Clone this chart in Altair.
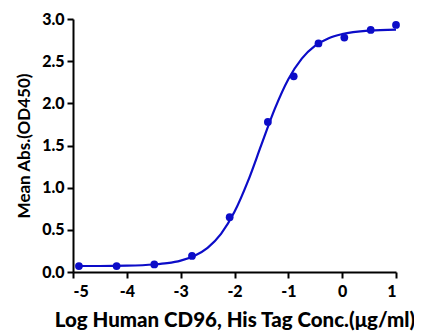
import altair as alt
import pandas as pd

# measured points (log conc, mean abs)
pt_x = [-4.89, -4.19, -3.49, -2.79, -2.09, -1.38, -0.90, -0.44, 0.04, 0.53, 1.00]
pt_y = [0.07, 0.07, 0.09, 0.19, 0.65, 1.78, 2.32, 2.71, 2.78, 2.87, 2.93]

# fitted curve
cv_x = [-4.89, -4.5, -4.0, -3.5, -3.25, -3.0, -2.75, -2.5, -2.25, -2.0, -1.75, -1.5,
        -1.25, -1.0, -0.75, -0.5, -0.25, 0.0, 0.5, 1.0]
cv_y = [0.071, 0.071, 0.075, 0.089, 0.105, 0.135, 0.190, 0.287, 0.452, 0.713, 1.077,
        1.510, 1.937, 2.286, 2.530, 2.683, 2.772, 2.821, 2.863, 2.875]

x_ticks = [-5, -4, -3, -2, -1, 0, 1]
y_ticks = [0.0, 0.5, 1.0, 1.5, 2.0, 2.5, 3.0]

pts = pd.DataFrame({"x": pt_x, "y": pt_y})
crv = pd.DataFrame({"x": cv_x, "y": cv_y})

FONT = "Lato"
BLUE = "#0c0cc8"

xs = alt.Scale(domain=[-5, 1], nice=False, zero=False)
ys = alt.Scale(domain=[0, 3], nice=False)

xax = alt.Axis(values=x_ticks, labelExpr="toString(datum.value)",
               title="Log Human CD96, His Tag Conc.(μg/ml)",
               grid=False, domainColor="black", domainWidth=2, tickColor="black",
               tickWidth=2, tickSize=6, labelFont=FONT, labelFontWeight=900,
               labelFontSize=16, labelColor="black", labelPadding=5,
               titleFont=FONT, titleFontWeight=900, titleFontSize=20.5,
               titleColor="black", titlePadding=11)
yax = alt.Axis(values=y_ticks, format=".1f", title="Mean Abs.(OD450)",
               grid=False, domainColor="black", domainWidth=2, tickColor="black",
               tickWidth=2, tickSize=6, labelFont=FONT, labelFontWeight=900,
               labelFontSize=16, labelColor="black", labelPadding=3,
               titleFont=FONT, titleFontWeight="bold", titleFontSize=17,
               titleColor="black", titlePadding=8)

line = alt.Chart(crv).mark_line(color=BLUE, strokeWidth=2.2, interpolate="monotone").encode(
    x=alt.X("x:Q", scale=xs, axis=xax),
    y=alt.Y("y:Q", scale=ys, axis=yax),
)
dots = alt.Chart(pts).mark_circle(color=BLUE, size=60, opacity=1).encode(
    x=alt.X("x:Q", scale=xs),
    y=alt.Y("y:Q", scale=ys),
)

chart = (line + dots).properties(
    width=323, height=253,
    autosize=alt.AutoSizeParams(type="none"),
    padding={"left": 65, "top": 11, "right": 18, "bottom": 63},
).configure_view(stroke=None)

chart.save("out.html", embed_options={"renderer": "svg", "actions": False})
